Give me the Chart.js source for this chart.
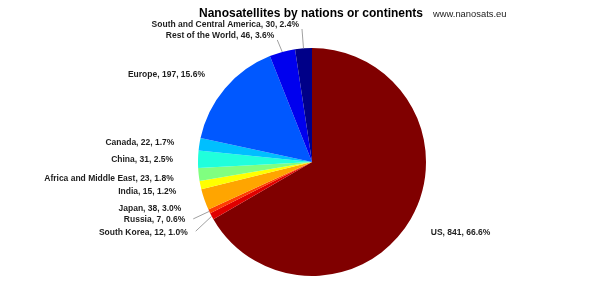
<!DOCTYPE html>
<html>
<head>
<meta charset="utf-8">
<script src="https://cdn.jsdelivr.net/npm/chart.js@4"></script>
<style>
  html, body { margin: 0; padding: 0; background: #fff; }
  #wrap { width: 603px; height: 306px; }
</style>
</head>
<body>
<div id="wrap"><canvas id="pieChart" width="603" height="306"></canvas></div>
<script>
// data, clockwise from 12 o'clock
const regions = ['US', 'South Korea', 'Russia', 'Japan', 'India', 'Africa and Middle East',
    'China', 'Canada', 'Europe', 'Rest of the World', 'South and Central America'];
const counts = [841, 12, 7, 38, 15, 23, 31, 22, 197, 46, 30];
const sliceColors = ['#800000', '#e00000', '#ff3c00', '#ffa500', '#ffff00', '#80ff80',
    '#20ffdc', '#00bfff', '#0058ff', '#0000ee', '#000088'];

// label placement relative to the slice's outer edge point: [dx, dy, leader line]
const labelLayout = [
    [20, 14, false], [-24, 16, true], [-24, 8.5, true], [-23, 9, false], [-24, 6.5, false],
    [-25, 4, false], [-25, 0.5, false], [-25, -2, false], [-20, -14, false],
    [-8, -16, true], [-4.5, -23.3, true]
];

const total = counts.reduce((a, b) => a + b, 0);

// draws title, source and the outside labels
const labelPlugin = {
    id: 'pieLabels',
    afterDraw(chart) {
        const ctx = chart.ctx;
        ctx.save();
        ctx.fillStyle = '#000';
        ctx.textBaseline = 'middle';
        ctx.textAlign = 'center';
        ctx.font = "bold 12px 'Liberation Sans', Arial, sans-serif";
        ctx.fillText('Nanosatellites by nations or continents', 311, 13.5);
        ctx.textAlign = 'left';
        ctx.fillStyle = '#222';
        ctx.font = "9.4px 'Liberation Sans', Arial, sans-serif";
        ctx.fillText('www.nanosats.eu', 433, 14);

        ctx.font = "bold 8.5px 'Liberation Sans', Arial, sans-serif";
        const arcs = chart.getDatasetMeta(0).data;
        arcs.forEach((arc, i) => {
            const mid = (arc.startAngle + arc.endAngle) / 2;
            const ex = arc.x + Math.cos(mid) * arc.outerRadius;
            const ey = arc.y + Math.sin(mid) * arc.outerRadius;
            const [dx, dy, leader] = labelLayout[i];
            const tx = ex + dx;
            const ty = ey + dy;
            const pct = (counts[i] / total * 100).toFixed(1);
            const text = regions[i] + ', ' + counts[i] + ', ' + pct + '%';
            ctx.textAlign = Math.cos(mid) > 0 ? 'left' : 'right';
            ctx.fillStyle = '#1e1e1e';
            ctx.fillText(text, tx, ty);
            if (leader) {
                ctx.strokeStyle = '#a0a0a0';
                ctx.lineWidth = 1;
                ctx.beginPath();
                if (dy < -10) {
                    ctx.moveTo(tx + 3, ty + 4);
                } else {
                    ctx.moveTo(tx + 8, ty - 1);
                }
                ctx.lineTo(ex, ey);
                ctx.stroke();
            }
        });
        ctx.restore();
    }
};

const ctx = document.getElementById('pieChart').getContext('2d');
new Chart(ctx, {
    type: 'pie',
    data: {
        labels: regions,
        datasets: [{
            data: counts,
            backgroundColor: sliceColors,
            borderWidth: 0
        }]
    },
    options: {
        responsive: false,
        animation: false,
        layout: { padding: { left: 198, right: 177, top: 48, bottom: 30 } },
        plugins: {
            legend: { display: false },
            tooltip: { enabled: false }
        }
    },
    plugins: [labelPlugin]
});
</script>
</body>
</html>
